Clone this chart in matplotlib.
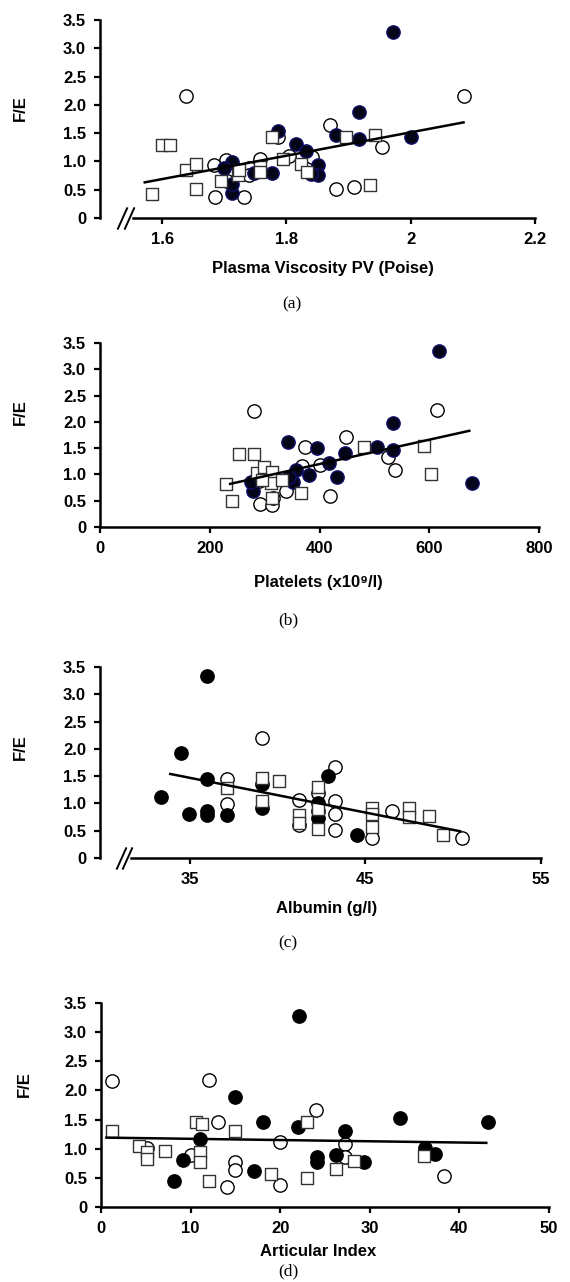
import numpy as np
import matplotlib
matplotlib.use("Agg")
import matplotlib.pyplot as plt

# ---------------- data ----------------
# (a) Plasma viscosity
a_fill_x = [1.972, 1.916, 2.0, 1.916, 1.879, 1.786, 1.815, 1.831, 1.851, 1.851, 1.840, 1.777, 1.712, 1.712, 1.712, 1.748, 1.700]
a_fill_y = [3.28, 1.87, 1.44, 1.39, 1.47, 1.53, 1.31, 1.18, 0.93, 0.76, 0.78, 0.79, 0.44, 0.99, 0.60, 0.80, 0.88]
a_open_x = [1.638, 2.085, 1.870, 1.954, 1.841, 1.804, 1.758, 1.740, 1.739, 1.702, 1.684, 1.685, 1.732, 1.880, 1.908, 1.786, 1.704]
a_open_y = [2.15, 2.16, 1.65, 1.26, 1.07, 1.10, 1.04, 0.88, 0.76, 1.03, 0.93, 0.37, 0.38, 0.51, 0.55, 1.44, 0.65]
a_sq_x = [1.583, 1.600, 1.612, 1.638, 1.655, 1.655, 1.694, 1.722, 1.758, 1.777, 1.795, 1.823, 1.833, 1.896, 1.942, 1.934, 1.758, 1.724]
a_sq_y = [0.42, 1.29, 1.29, 0.84, 0.95, 0.51, 0.66, 0.76, 0.91, 1.43, 1.05, 0.95, 0.82, 1.44, 1.47, 0.58, 0.81, 0.85]
a_fit_x = [1.572, 2.085]
a_fit_y = [0.63, 1.69]

# (b) Platelets
b_fill_x = [618, 534, 534, 504, 446, 418, 432, 395, 380, 342, 358, 351, 278, 275, 677, 345]
b_fill_y = [3.35, 1.98, 1.47, 1.53, 1.41, 1.22, 0.96, 1.51, 0.99, 1.61, 1.09, 0.86, 0.69, 0.86, 0.84, 0.95]
b_open_x = [280, 615, 448, 373, 369, 400, 525, 538, 420, 339, 292, 313, 316, 290]
b_open_y = [2.20, 2.23, 1.72, 1.53, 1.16, 1.17, 1.33, 1.09, 0.59, 0.68, 0.44, 0.41, 0.56, 0.88]
b_sq_x = [230, 241, 254, 281, 286, 299, 313, 312, 331, 313, 366, 482, 591, 603, 295]
b_sq_y = [0.82, 0.49, 1.38, 1.38, 1.02, 1.14, 1.05, 0.84, 0.89, 0.56, 0.64, 1.52, 1.55, 1.00, 0.90]
b_fit_x = [237, 673]
b_fit_y = [0.82, 1.83]

# (c) Albumin
c_fill_x = [36.0, 34.5, 36.0, 33.4, 34.96, 36.0, 36.0, 37.1, 39.1, 39.1, 42.9, 42.3, 42.3, 42.3, 44.5]
c_fill_y = [3.33, 1.92, 1.44, 1.12, 0.80, 0.87, 0.78, 0.78, 0.92, 1.36, 1.51, 1.00, 0.74, 0.86, 0.43]
c_open_x = [39.1, 43.3, 37.1, 37.1, 41.2, 43.3, 43.3, 43.3, 46.5, 45.4, 50.5, 42.3, 41.2]
c_open_y = [2.19, 1.67, 1.45, 0.99, 1.07, 1.05, 0.81, 0.52, 0.86, 0.37, 0.37, 1.20, 0.60]
c_sq_x = [37.1, 39.1, 39.1, 40.1, 41.2, 41.2, 42.3, 42.3, 42.3, 45.4, 45.4, 45.4, 47.5, 47.5, 48.6, 49.4]
c_sq_y = [1.29, 1.46, 1.04, 1.42, 0.78, 0.64, 1.31, 0.90, 0.53, 0.92, 0.80, 0.56, 0.92, 0.75, 0.77, 0.43]
c_fit_x = [33.9, 50.4]
c_fit_y = [1.54, 0.49]

# (d) Articular index
d_fill_x = [22.1, 15.0, 18.1, 22.0, 27.2, 33.4, 43.2, 11.0, 9.1, 8.1, 17.1, 24.1, 24.1, 26.2, 29.3, 36.2, 37.3]
d_fill_y = [3.28, 1.88, 1.45, 1.38, 1.31, 1.53, 1.45, 1.16, 0.80, 0.44, 0.62, 0.86, 0.77, 0.89, 0.77, 1.02, 0.91]
d_open_x = [1.2, 12.1, 13.1, 24.0, 20.0, 27.2, 27.2, 10.1, 15.0, 15.0, 14.1, 20.0, 38.3, 5.1]
d_open_y = [2.16, 2.18, 1.45, 1.67, 1.11, 1.08, 0.85, 0.90, 0.78, 0.63, 0.35, 0.37, 0.54, 1.02]
d_sq_x = [1.2, 4.2, 5.1, 5.1, 7.1, 10.6, 11.3, 11.1, 11.1, 12.1, 15.0, 19.0, 23.0, 23.0, 26.2, 28.2, 36.1]
d_sq_y = [1.31, 1.05, 0.94, 0.82, 0.96, 1.46, 1.42, 0.94, 0.77, 0.44, 1.31, 0.57, 1.45, 0.50, 0.66, 0.79, 0.88]
d_fit_x = [0.6, 43.0]
d_fit_y = [1.19, 1.10]

y_ticks = [0, 0.5, 1.0, 1.5, 2.0, 2.5, 3.0, 3.5]
y_ticklabels = ["0", "0.5", "1.0", "1.5", "2.0", "2.5", "3.0", "3.5"]

panels = [
    dict(fx=a_fill_x, fy=a_fill_y, ox=a_open_x, oy=a_open_y, sx=a_sq_x, sy=a_sq_y,
         lx=a_fit_x, ly=a_fit_y, xlim=(1.5, 2.2), xticks=[1.6, 1.8, 2.0, 2.2],
         xticklabels=["1.6", "1.8", "2", "2.2"], spine_start=1.553, breaks=[1.536, 1.546],
         xlabel="Plasma Viscosity PV (Poise)", cap="(a)",
         box=(100, 535, 20, 218), xl=(323, 268), capxy=(292, 304), yl=(20, 108),
         fill="#05051a", edge="#10106a"),
    dict(fx=b_fill_x, fy=b_fill_y, ox=b_open_x, oy=b_open_y, sx=b_sq_x, sy=b_sq_y,
         lx=b_fit_x, ly=b_fit_y, xlim=(0, 800), xticks=[0, 200, 400, 600, 800],
         xticklabels=["0", "200", "400", "600", "800"], spine_start=None, breaks=[],
         xlabel="Platelets (x10\u2079/l)", cap="(b)",
         box=(100, 539, 343, 527), xl=(318, 583), capxy=(288, 620), yl=(20, 412),
         fill="#05051a", edge="#10106a"),
    dict(fx=c_fill_x, fy=c_fill_y, ox=c_open_x, oy=c_open_y, sx=c_sq_x, sy=c_sq_y,
         lx=c_fit_x, ly=c_fit_y, xlim=(29.9, 55), xticks=[35, 45, 55],
         xticklabels=["35", "45", "55"], spine_start=31.65, breaks=[31.1, 31.45],
         xlabel="Albumin (g/l)", cap="(c)",
         box=(100, 541, 667, 858), xl=(327, 909), capxy=(288, 943), yl=(20, 747),
         fill="black", edge="black"),
    dict(fx=d_fill_x, fy=d_fill_y, ox=d_open_x, oy=d_open_y, sx=d_sq_x, sy=d_sq_y,
         lx=d_fit_x, ly=d_fit_y, xlim=(0, 50), xticks=[0, 10, 20, 30, 40, 50],
         xticklabels=["0", "10", "20", "30", "40", "50"], spine_start=None, breaks=[],
         xlabel="Articular Index", cap="(d)",
         box=(101, 549, 1003, 1207), xl=(318, 1252), capxy=(288, 1271), yl=(24, 1084),
         fill="black", edge="black"),
]

W, H = 570, 1282
fig = plt.figure(figsize=(W / 100, H / 100), dpi=100)
sans = ["Liberation Sans", "DejaVu Sans"]
serif = ["Liberation Serif", "DejaVu Serif"]

for p in panels:
    l, r, t, b = p["box"]
    ax = fig.add_axes([l / W, 1 - b / H, (r - l) / W, (b - t) / H])
    ax.set_xlim(*p["xlim"])
    ax.set_ylim(0, 3.5)
    for s in ["top", "right"]:
        ax.spines[s].set_visible(False)
    ax.spines["left"].set_linewidth(1.8)
    ax.spines["bottom"].set_linewidth(1.8)
    if p["spine_start"] is not None:
        ax.spines["bottom"].set_bounds(p["spine_start"], p["xlim"][1])
    ax.set_yticks(y_ticks)
    ax.set_yticklabels(y_ticklabels)
    ax.set_xticks(p["xticks"])
    ax.set_xticklabels(p["xticklabels"])
    ax.tick_params(axis="both", direction="out", length=4, width=1.6, labelsize=12, pad=6)
    for lab in ax.get_xticklabels() + ax.get_yticklabels():
        lab.set_fontfamily(sans)
        lab.set_fontweight("bold")

    ax.scatter(p["ox"], p["oy"], s=92, marker="o", facecolors="white", edgecolors="black",
               linewidths=1.0, zorder=3, clip_on=False)
    ax.scatter(p["fx"], p["fy"], s=92, marker="o", facecolors=p["fill"], edgecolors=p["edge"],
               linewidths=1.0, zorder=4, clip_on=False)
    ax.scatter(p["sx"], p["sy"], s=80, marker="s", facecolors="white", edgecolors="#333333",
               linewidths=1.0, zorder=5, clip_on=False)
    ax.plot(p["lx"], p["ly"], color="black", lw=1.8, zorder=6)

    for bx in p["breaks"]:
        ax.plot([bx], [0], marker=[(-0.45, -1), (0.45, 1)], markersize=16, linestyle="none",
                color="black", mec="black", mew=1.4, clip_on=False, zorder=7)

    fig.text(p["xl"][0] / W, 1 - p["xl"][1] / H, p["xlabel"], ha="center", va="center",
             fontsize=12, fontweight="bold", family=sans)
    fig.text(p["capxy"][0] / W, 1 - p["capxy"][1] / H, p["cap"], ha="center", va="center",
             fontsize=12.5, family=serif)
    fig.text(p["yl"][0] / W, 1 - p["yl"][1] / H, "F/E", ha="center", va="center",
             rotation=90, fontsize=12, fontweight="bold", family=sans)

fig.savefig("out.png", dpi=100)
